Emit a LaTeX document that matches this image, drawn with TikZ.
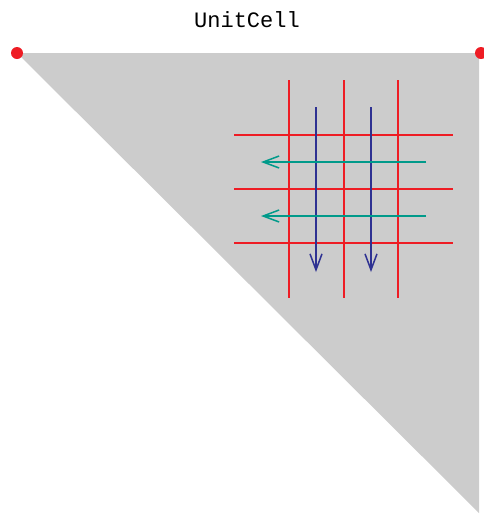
\documentclass[tikz,border=0pt]{standalone}
\usepackage{fontspec}
\setmonofont{Liberation Mono}
\usetikzlibrary{arrows.meta}
\definecolor{cellgray}{HTML}{CCCCCC}
\definecolor{gridred}{HTML}{EE1C24}
\definecolor{downblue}{HTML}{2E3192}
\definecolor{leftteal}{HTML}{009A8A}
\begin{document}
\begin{tikzpicture}[
  x=1pt, y=-1pt,
  gridline/.style={draw=gridred,line width=1.5pt},
  flow/.style={line width=1.5pt,-{Straight Barb[length=16pt,width=12pt,line width=1.5pt]}},
  corner/.style={fill=gridred}
]
\useasboundingbox (0,0) rectangle (483,515);
\coordinate (tl) at (17,53);
\coordinate (tr) at (479,53);
\coordinate (br) at (479,513);
\fill[cellgray] (tl) -- (tr) -- (br) -- cycle;
\node[font=\ttfamily\fontsize{22}{26}\selectfont] (title) at (247,20) {UnitCell};
% grid
\foreach \x in {289,344,398}
  \draw[gridline] (\x,80) -- (\x,298);
\foreach \y in {135,189,243}
  \draw[gridline] (234,\y) -- (453,\y);
% flows
\foreach \x in {316,371} {
  \coordinate (d1) at (\x,107);
  \coordinate (d2) at (\x,272);
  \draw[flow,downblue] (d1) -- (d2);
}
\foreach \y in {162,216} {
  \coordinate (l1) at (426,\y);
  \coordinate (l2) at (261,\y);
  \draw[flow,leftteal] (l1) -- (l2);
}
\fill[corner] (tl) circle (6);
\fill[corner] (481,53) circle (6);
\end{tikzpicture}
\end{document}
